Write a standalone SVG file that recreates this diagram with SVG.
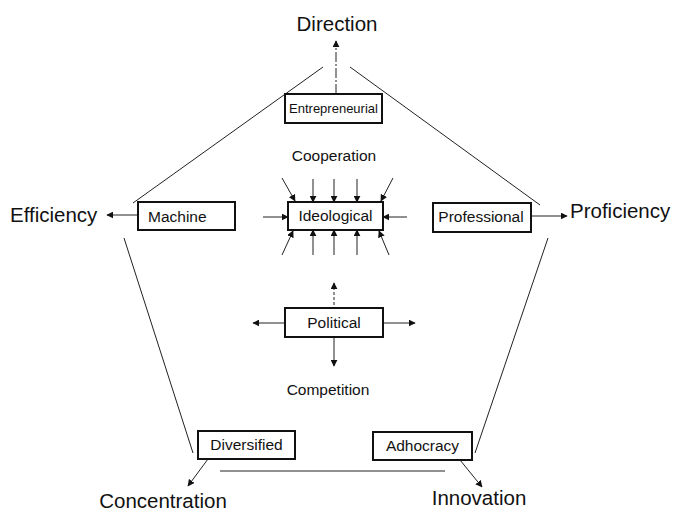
<svg xmlns="http://www.w3.org/2000/svg" width="676" height="511" viewBox="0 0 676 511">
<style>
.big{font-family:"Liberation Sans",Arial,sans-serif;font-size:20.5px;fill:#111}
.mid{font-family:"Liberation Sans",Arial,sans-serif;font-size:15.5px;fill:#111}
.sm{font-family:"Liberation Sans",Arial,sans-serif;font-size:13px;fill:#111}
.box{fill:#fff;stroke:#111;stroke-width:2}
.ln{stroke:#222;stroke-width:1;fill:none}
.ar{stroke:#222;stroke-width:1;fill:none;marker-end:url(#ah)}
</style>
<defs>
<marker id="ah" viewBox="0 0 10 10" refX="9" refY="5" markerWidth="7" markerHeight="7" markerUnits="userSpaceOnUse" orient="auto">
<path d="M0,0 L10,5 L0,10 z" fill="#111"/>
</marker>
</defs>
<rect width="676" height="511" fill="#fff"/>
<g id="connectors">
<line class="ln" x1="323" y1="67" x2="133" y2="203"/>
<line class="ln" x1="350" y1="67" x2="540" y2="205"/>
<line class="ln" x1="124" y1="238" x2="193" y2="453"/>
<line class="ln" x1="548" y1="238" x2="475" y2="453"/>
<line class="ln" x1="220" y1="471" x2="445" y2="471"/>
<line class="ar" x1="336" y1="94" x2="336" y2="41" stroke-dasharray="10,2,2,2"/>
<line class="ar" x1="138" y1="215" x2="107" y2="215"/>
<line class="ar" x1="531" y1="216" x2="567" y2="216"/>
<line class="ar" x1="208" y1="459" x2="188" y2="486"/>
<line class="ar" x1="460" y1="460" x2="482" y2="487"/>
<line class="ar" x1="282" y1="178" x2="295" y2="201"/>
<line class="ar" x1="313" y1="179" x2="313" y2="202"/>
<line class="ar" x1="334" y1="179" x2="334" y2="202"/>
<line class="ar" x1="357" y1="179" x2="357" y2="202"/>
<line class="ar" x1="393" y1="178" x2="381" y2="201"/>
<line class="ar" x1="263" y1="217" x2="288" y2="217"/>
<line class="ar" x1="407" y1="217" x2="383" y2="217"/>
<line class="ar" x1="282" y1="255" x2="293" y2="231"/>
<line class="ar" x1="313" y1="255" x2="313" y2="230"/>
<line class="ar" x1="334" y1="255" x2="334" y2="230"/>
<line class="ar" x1="357" y1="255" x2="357" y2="230"/>
<line class="ar" x1="389" y1="255" x2="379" y2="231"/>
<line class="ar" x1="334" y1="305" x2="334" y2="283" stroke-dasharray="3,2"/>
<line class="ar" x1="285" y1="323" x2="253" y2="323"/>
<line class="ar" x1="383" y1="323" x2="415" y2="323"/>
<line class="ar" x1="334" y1="337" x2="334" y2="366"/>
</g>
<g id="labels">
<text class="big" x="337" y="31" text-anchor="middle">Direction</text>
<text class="big" x="10" y="222">Efficiency</text>
<text class="big" x="570" y="218">Proficiency</text>
<text class="big" x="163" y="508" text-anchor="middle">Concentration</text>
<text class="big" x="479" y="505" text-anchor="middle">Innovation</text>
<text class="mid" x="334" y="161" text-anchor="middle">Cooperation</text>
<text class="mid" x="328" y="395" text-anchor="middle">Competition</text>
</g>
<g id="entrepreneurial">
<rect class="box" x="285" y="94" width="97" height="29"/>
<text class="sm" x="333.5" y="113" text-anchor="middle">Entrepreneurial</text>
</g>
<g id="machine">
<rect class="box" x="138" y="202" width="97" height="28"/>
<text class="mid" x="148" y="222">Machine</text>
</g>
<g id="ideological">
<rect class="box" x="288" y="202" width="95" height="28"/>
<text class="mid" x="335.5" y="221" text-anchor="middle">Ideological</text>
</g>
<g id="professional">
<rect class="box" x="433" y="203" width="98" height="29"/>
<text class="mid" x="481" y="222" text-anchor="middle">Professional</text>
</g>
<g id="political">
<rect class="box" x="285" y="308" width="98" height="29"/>
<text class="mid" x="334" y="328" text-anchor="middle">Political</text>
</g>
<g id="diversified">
<rect class="box" x="198" y="431" width="97" height="28"/>
<text class="mid" x="246.5" y="450" text-anchor="middle">Diversified</text>
</g>
<g id="adhocracy">
<rect class="box" x="373" y="432" width="99" height="28"/>
<text class="mid" x="422.5" y="451" text-anchor="middle">Adhocracy</text>
</g>
</svg>
